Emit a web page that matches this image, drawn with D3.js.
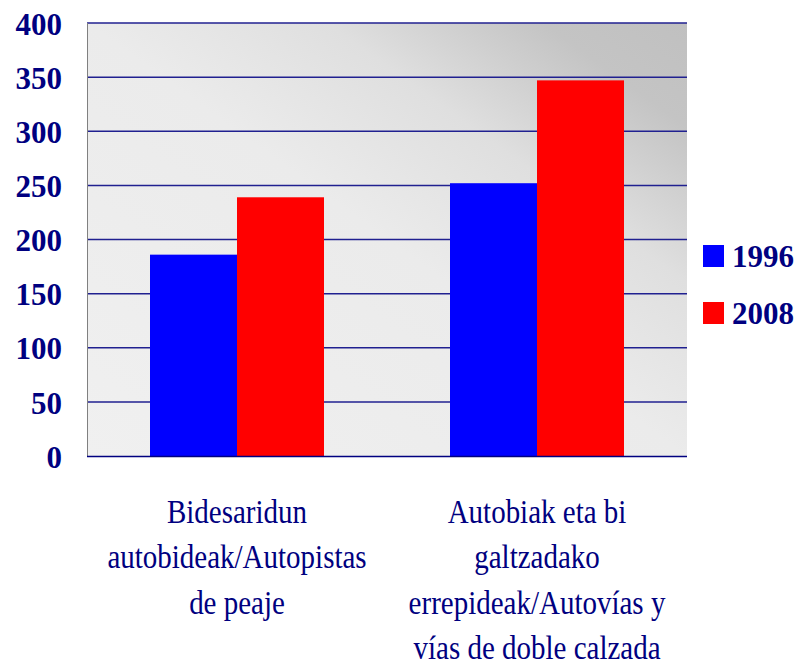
<!DOCTYPE html>
<html>
<head>
<meta charset="utf-8">
<script src="https://cdn.jsdelivr.net/npm/d3@7"></script>
<style>
  html, body { margin: 0; padding: 0; background: #fff; }
  svg { display: block; }
</style>
</head>
<body>
<svg id="chart" width="800" height="666"></svg>
<script>
const categories = [
  ["Bidesaridun", "autobideak/Autopistas", "de peaje"],
  ["Autobiak eta bi", "galtzadako", "errepideak/Autovías y", "vías de doble calzada"]
];
const seriesNames = ["1996", "2008"];
const values1996 = [186, 252];
const values2008 = [239, 347];
const seriesColors = ["#0000ff", "#ff0000"];
const yTicks = [0, 50, 100, 150, 200, 250, 300, 350, 400];

const svg = d3.select("#chart");
const plot = { left: 87, right: 687, top: 23, bottom: 456 };
const navy = "#000080";
const font = "'Liberation Serif', 'Times New Roman', serif";

const x0 = d3.scaleBand().domain(d3.range(categories.length))
  .range([plot.left, plot.right]).paddingInner(0.42).paddingOuter(0.21);
const x1 = d3.scaleBand().domain(d3.range(seriesNames.length))
  .range([0, x0.bandwidth()]);
const y = d3.scaleLinear().domain([0, 400]).range([plot.bottom, plot.top]);

// background gradient
const defs = svg.append("defs");
const grad = defs.append("linearGradient").attr("id", "bg")
  .attr("x1", 1).attr("y1", 0).attr("x2", 0).attr("y2", 1);
[[0, "#c0c0c0"], [0.12, "#c4c4c4"], [0.3, "#dfdfdf"], [0.5, "#ebebeb"], [1, "#f0f0f0"]]
  .forEach(([o, c]) => grad.append("stop").attr("offset", o).attr("stop-color", c));

svg.append("rect")
  .attr("x", plot.left).attr("y", plot.top)
  .attr("width", plot.right - plot.left).attr("height", plot.bottom - plot.top)
  .attr("fill", "url(#bg)");

// gridlines
svg.append("g").selectAll("line").data(yTicks.filter(d => d > 0)).join("line")
  .attr("x1", plot.left).attr("x2", plot.right)
  .attr("y1", d => y(d)).attr("y2", d => y(d))
  .attr("stroke", "#202090").attr("stroke-width", 1.5);

// bars
const series = [values1996, values2008];
const groups = svg.append("g").selectAll("g").data(categories).join("g")
  .attr("transform", (d, i) => `translate(${x0(i)},0)`);
groups.selectAll("rect").data((d, i) => series.map((s, j) => ({ v: s[i], j })))
  .join("rect")
  .attr("x", d => x1(d.j)).attr("width", x1.bandwidth())
  .attr("y", d => y(d.v)).attr("height", d => y(0) - y(d.v))
  .attr("fill", d => seriesColors[d.j]);

// axes lines
svg.append("line").attr("x1", plot.left + 0.5).attr("x2", plot.left + 0.5)
  .attr("y1", plot.top).attr("y2", plot.bottom).attr("stroke", "#808080").attr("stroke-width", 1);
svg.append("line").attr("x1", plot.left).attr("x2", plot.right)
  .attr("y1", plot.bottom + 0.5).attr("y2", plot.bottom + 0.5).attr("stroke", navy).attr("stroke-width", 1.5);

// y axis labels
const yAxis = d3.axisLeft(y).tickValues(yTicks).tickSize(0).tickPadding(25);
const yg = svg.append("g").attr("transform", `translate(${plot.left},0)`).call(yAxis);
yg.select(".domain").remove();
yg.selectAll("text")
  .attr("font-family", font).attr("font-size", 31).attr("font-weight", "bold")
  .attr("fill", navy).attr("dy", "0.36em");

// category labels
const lineH = 45.5;
categories.forEach((lines, i) => {
  const cx = x0(i) + x0.bandwidth() / 2;
  const t = svg.append("text")
    .attr("transform", `translate(${cx},523) scale(1,1.18)`)
    .attr("text-anchor", "middle")
    .attr("font-family", font).attr("font-size", 29).attr("fill", navy);
  lines.forEach((ln, k) => {
    t.append("tspan").attr("x", 0).attr("y", k * lineH / 1.18).text(ln);
  });
});

// legend
const legend = svg.append("g");
seriesNames.forEach((name, i) => {
  const by = 267 + i * 57;
  legend.append("rect").attr("x", 703).attr("y", by - 22).attr("width", 21).attr("height", 22)
    .attr("fill", seriesColors[i]);
  legend.append("text").attr("x", 732).attr("y", by)
    .attr("font-family", font).attr("font-size", 31).attr("font-weight", "bold")
    .attr("fill", navy).text(name);
});
</script>
</body>
</html>
